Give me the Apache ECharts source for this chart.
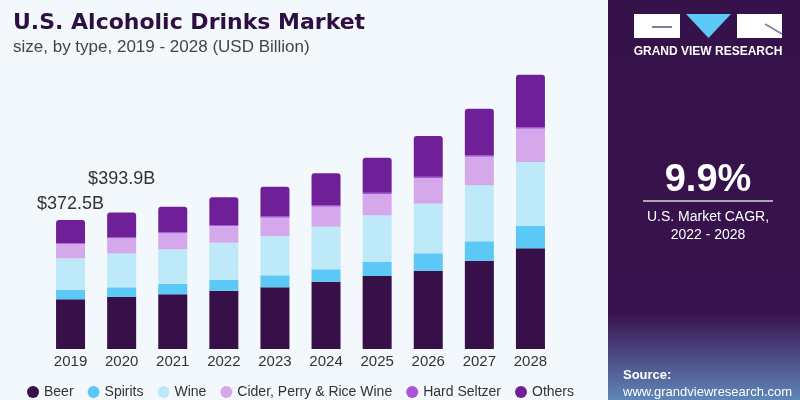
<!DOCTYPE html>
<html><head><meta charset="utf-8">
<script src="https://cdn.jsdelivr.net/npm/echarts@6/dist/echarts.min.js"></script>
<style>html,body{margin:0;padding:0;background:#f3f8fc;}#c{width:800px;height:400px;}</style>
</head><body><div id="c"></div>
<script>
const years = ['2019','2020','2021','2022','2023','2024','2025','2026','2027','2028'];
const beer = [143.5,151.0,158.0,168.4,178.2,194.4,210.8,226.1,255.0,290.8];
const spirits = [26.9,27.1,29.7,30.9,34.7,35.8,40.4,50.3,56.0,64.4];
const wine = [91.5,98.2,100.2,107.7,113.5,123.0,134.9,143.2,161.7,184.8];
const cider = [41.3,43.3,46.2,48.2,52.9,57.8,61.5,74.2,82.6,96.2];
const hardSeltzer = [2.0,2.5,3.0,3.0,3.5,3.5,4.0,4.0,4.5,5.0];
const others = [67.3,71.8,73.8,79.9,86.0,93.0,100.8,117.3,134.1,151.0];
const totalLabels = ['$372.5B','$393.9B'];
const seriesNames = ['Beer','Spirits','Wine','Cider, Perry & Rice Wine','Hard Seltzer','Others'];
const colors = ['#37104a','#5bc8f5','#bde9f9','#d4a8ea','#a855d8','#6f2099'];

const chart = echarts.init(document.getElementById('c'));
const font = 'Liberation Sans, Arial, sans-serif';
const values = [beer, spirits, wine, cider, hardSeltzer, others];
const labelDist = [7, 25];
const series = seriesNames.map((n, i) => ({
  name: n, type: 'bar', stack: 'total', barWidth: 29,
  itemStyle: { color: colors[i], borderRadius: i === 5 ? [3,3,0,0] : 0 },
  data: values[i].map((v, j) => {
    if (i === 5 && j < totalLabels.length) {
      return { value: v, label: { show: true, position: 'top', distance: labelDist[j],
        formatter: totalLabels[j], color: '#333', fontSize: 18, fontFamily: font } };
    }
    return v;
  })
}));

chart.setOption({
  backgroundColor: '#f3f8fc',
  animation: false,
  color: colors,
  grid: { left: 45, right: 244, top: 72, bottom: 51 },
  xAxis: { type: 'category', data: years, axisLine: { show: false }, axisTick: { show: false },
    axisLabel: { color: '#333', fontSize: 15, fontFamily: font, margin: 5 } },
  yAxis: { type: 'value', min: 0, max: 800, show: false },
  legend: { data: seriesNames, left: 22, top: 380, icon: 'circle', itemWidth: 12, itemHeight: 12,
    itemGap: 14, textStyle: { color: '#333', fontSize: 14, fontFamily: font } },
  series: series,
  graphic: [
    { type: 'text', left: 13, top: 12, style: { text: 'U.S. Alcoholic Drinks Market', fill: '#2d0f42',
      font: 'bold 22px DejaVu Sans, sans-serif' } },
    { type: 'text', left: 13, top: 39, style: { text: 'size, by type, 2019 - 2028 (USD Billion)', fill: '#444',
      font: '17px ' + font } },
    { type: 'rect', shape: { x: 608, y: 0, width: 192, height: 400 },
      style: { fill: { type: 'linear', x: 0, y: 0, x2: 0, y2: 1, colorStops: [
        { offset: 0, color: '#36124a' }, { offset: 0.78, color: '#37124c' },
        { offset: 0.87, color: '#4a3f7a' }, { offset: 1, color: '#5f86b8' }] } } },
    { type: 'rect', shape: { x: 634, y: 14, width: 46, height: 24 }, style: { fill: '#fff' } },
    { type: 'rect', shape: { x: 652, y: 26, width: 20, height: 2 }, style: { fill: '#8a7a99' } },
    { type: 'polygon', shape: { points: [[686,14],[731,14],[708.5,38]] }, style: { fill: '#5bc8f5' } },
    { type: 'rect', shape: { x: 737, y: 14, width: 45, height: 24 }, style: { fill: '#fff' } },
    { type: 'line', shape: { x1: 765, y1: 24, x2: 782, y2: 34 }, style: { stroke: '#8a7a99', lineWidth: 1.5 } },
    { type: 'text', x: 708, y: 52, style: { text: 'GRAND VIEW RESEARCH', fill: '#fff', font: 'bold 12px ' + font,
      align: 'center', verticalAlign: 'middle' } },
    { type: 'text', x: 708, y: 181, style: { text: '9.9%', fill: '#fff', font: 'bold 38px ' + font,
      align: 'center', verticalAlign: 'middle' } },
    { type: 'line', shape: { x1: 643, y1: 201, x2: 773, y2: 201 }, style: { stroke: '#d8d0e0', lineWidth: 1.5 } },
    { type: 'text', x: 708, y: 217, style: { text: 'U.S. Market CAGR,', fill: '#fff', font: '14px ' + font,
      align: 'center', verticalAlign: 'middle' } },
    { type: 'text', x: 708, y: 235, style: { text: '2022 - 2028', fill: '#fff', font: '14px ' + font,
      align: 'center', verticalAlign: 'middle' } },
    { type: 'text', x: 623, y: 375, style: { text: 'Source:', fill: '#fff', font: 'bold 13px ' + font,
      verticalAlign: 'middle' } },
    { type: 'text', x: 623, y: 392, style: { text: 'www.grandviewresearch.com', fill: '#fff', font: '13px ' + font,
      verticalAlign: 'middle' } }
  ]
});
</script></body></html>
